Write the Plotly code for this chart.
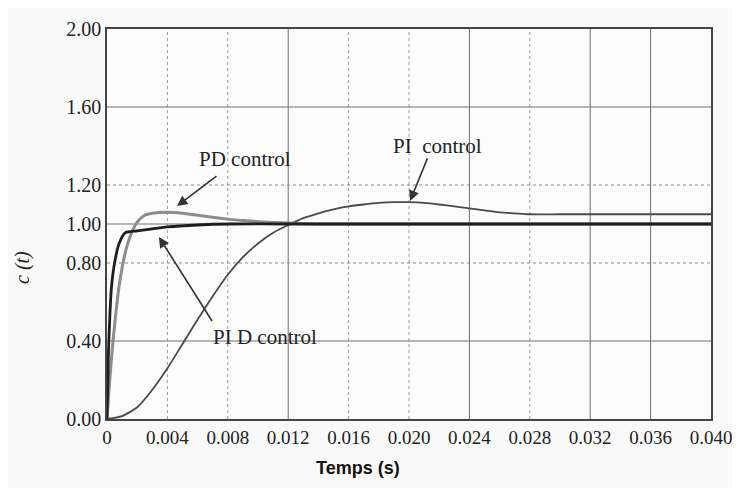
import plotly.graph_objects as go

# ---- data ----
t_pid = [0, 0.0001, 0.0002, 0.0003, 0.0005, 0.0008, 0.0012, 0.002, 0.003, 0.004, 0.006, 0.008, 0.012, 0.020, 0.030, 0.040]
c_pid = [0, 0.35, 0.55, 0.68, 0.80, 0.90, 0.955, 0.965, 0.975, 0.985, 0.995, 1.0, 1.0, 1.0, 1.0, 1.0]

t_pd = [0, 0.0002, 0.0004, 0.0008, 0.0012, 0.0016, 0.002, 0.0025, 0.003, 0.004, 0.005, 0.006, 0.007, 0.008, 0.009, 0.010, 0.012, 0.014, 0.020, 0.030, 0.040]
c_pd = [0, 0.22, 0.40, 0.68, 0.85, 0.95, 1.01, 1.045, 1.055, 1.06, 1.055, 1.045, 1.035, 1.025, 1.018, 1.012, 1.005, 1.0, 1.0, 1.0, 1.0]

t_pi = [0, 0.001, 0.002, 0.003, 0.004, 0.005, 0.006, 0.007, 0.008, 0.009, 0.010, 0.011, 0.012, 0.013, 0.014, 0.015, 0.016, 0.017, 0.018, 0.019, 0.020, 0.021, 0.022, 0.023, 0.024, 0.025, 0.026, 0.027, 0.028, 0.030, 0.034, 0.040]
c_pi = [0, 0.015, 0.06, 0.15, 0.26, 0.385, 0.51, 0.63, 0.74, 0.83, 0.90, 0.955, 0.995, 1.03, 1.055, 1.075, 1.09, 1.10, 1.108, 1.112, 1.112, 1.108, 1.10, 1.09, 1.08, 1.07, 1.06, 1.055, 1.05, 1.05, 1.05, 1.05]

x_ticks = [0, 0.004, 0.008, 0.012, 0.016, 0.020, 0.024, 0.028, 0.032, 0.036, 0.040]
x_labels = ["0", "0.004", "0.008", "0.012", "0.016", "0.020", "0.024", "0.028", "0.032", "0.036", "0.040"]
y_ticks = [0, 0.4, 0.8, 1.0, 1.2, 1.6, 2.0]
y_labels = ["0.00", "0.40", "0.80", "1.00", "1.20", "1.60", "2.00"]

x_grid_solid = [0.012, 0.024, 0.032, 0.036]
x_grid_dotted = [0.004, 0.008, 0.016, 0.020, 0.028]
y_grid_solid = [0.4, 1.0, 1.6]
y_grid_dotted = [0.8, 1.2]

SERIF = "Liberation Serif, Times New Roman, serif"

fig = go.Figure()

shapes = []
for xv in x_grid_solid:
    shapes.append(dict(type="line", xref="x", yref="y", x0=xv, x1=xv, y0=0, y1=2,
                       line=dict(color="#6e6e6e", width=1), layer="below"))
for xv in x_grid_dotted:
    shapes.append(dict(type="line", xref="x", yref="y", x0=xv, x1=xv, y0=0, y1=2,
                       line=dict(color="#9a9a9a", width=1, dash="dot"), layer="below"))
for yv in y_grid_solid:
    shapes.append(dict(type="line", xref="x", yref="y", x0=0, x1=0.04, y0=yv, y1=yv,
                       line=dict(color="#6e6e6e", width=1), layer="below"))
for yv in y_grid_dotted:
    shapes.append(dict(type="line", xref="x", yref="y", x0=0, x1=0.04, y0=yv, y1=yv,
                       line=dict(color="#8a8a8a", width=1.2, dash="dot"), layer="below"))

fig.add_trace(go.Scatter(x=t_pi, y=c_pi, mode="lines", name="PI control",
                         line=dict(color="#4a4a4a", width=1.8, shape="spline", smoothing=0.6)))
fig.add_trace(go.Scatter(x=t_pd, y=c_pd, mode="lines", name="PD control",
                         line=dict(color="#8c8c8c", width=3, shape="spline", smoothing=0.6)))
fig.add_trace(go.Scatter(x=t_pid, y=c_pid, mode="lines", name="PID control",
                         line=dict(color="#1e1e1e", width=2.8, shape="spline", smoothing=0.6)))

ann_font = dict(family=SERIF, size=21, color="#222")
annotations = [
    dict(x=0.00914, y=1.334, text="PD control", showarrow=False, font=ann_font),
    dict(x=0.02192, y=1.40, text="PI&nbsp;&nbsp;control", showarrow=False, font=ann_font),
    dict(x=0.01046, y=0.419, text="PI D control", showarrow=False, font=ann_font),
    dict(xref="paper", yref="paper", x=(358 - 107) / 604, y=(419 - 468) / 390,
         text="<b>Temps (s)</b>", showarrow=False, xanchor="center", yanchor="middle",
         font=dict(family="Liberation Sans, Arial, sans-serif", size=18, color="#111")),
    dict(xref="paper", yref="paper", x=(22 - 107) / 604, y=(419 - 268) / 390,
         text="<i>c (t)</i>", showarrow=False, xanchor="center", yanchor="middle", textangle=-90,
         font=dict(family=SERIF, size=20, color="#222")),
]
arrows = [
    ((0.00735, 1.2515), (0.00464, 1.092)),
    ((0.02126, 1.344), (0.02007, 1.118)),
    ((0.00702, 0.495), (0.00344, 0.933)),
]
for (tx, ty), (hx, hy) in arrows:
    annotations.append(dict(x=hx, y=hy, ax=tx, ay=ty, axref="x", ayref="y", xref="x", yref="y",
                            text="", showarrow=True, arrowhead=2, arrowsize=1.3, arrowwidth=1.6,
                            arrowcolor="#333", standoff=0, startstandoff=0))

fig.update_layout(
    width=732, height=480,
    margin=dict(l=99, r=29, t=21, b=69, autoexpand=False),
    paper_bgcolor="#fafafa", plot_bgcolor="#fcfcfc",
    showlegend=False,
    shapes=shapes,
    annotations=annotations,
    xaxis=dict(range=[0, 0.04], tickvals=x_ticks, ticktext=x_labels, showgrid=False, zeroline=False,
               showline=True, linecolor="#444", linewidth=1.5, mirror=True, ticks="",
               automargin=False,
               tickfont=dict(family=SERIF, size=19, color="#222")),
    yaxis=dict(range=[0, 2], tickvals=y_ticks, ticktext=y_labels, showgrid=False, zeroline=False,
               showline=True, linecolor="#444", linewidth=1.5, mirror=True, ticks="",
               automargin=False,
               tickfont=dict(family=SERIF, size=20, color="#222")),
)

fig.write_html("out.html")
